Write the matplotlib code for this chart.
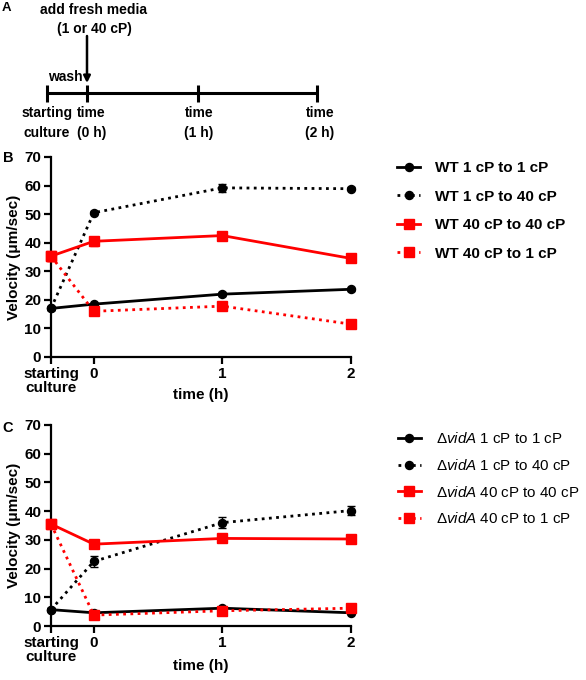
import matplotlib
matplotlib.use("Agg")
import matplotlib.pyplot as plt
from matplotlib.lines import Line2D
import numpy as np

plt.rcParams['font.family'] = ['Liberation Sans', 'DejaVu Sans']
plt.rcParams['font.weight'] = 'bold'
plt.rcParams['mathtext.fontset'] = 'custom'
plt.rcParams['mathtext.it'] = 'Liberation Sans:italic:normal'
plt.rcParams['mathtext.rm'] = 'Liberation Sans:normal'

# ---------------- data ----------------
time_labels = ["starting\nculture", "0", "1", "2"]
time_x = [-0.333, 0, 1, 2]

wt_1_1 = [17.0, 18.5, 22.0, 23.7]
wt_1_1_err = [0.5, 0.5, 0.6, 0.5]
wt_1_40 = [17.0, 50.5, 59.2, 58.9]
wt_1_40_err = [0.5, 0.6, 1.5, 0.6]
wt_40_40 = [35.3, 40.5, 42.5, 34.5]
wt_40_40_err = [1.6, 1.5, 1.0, 1.4]
wt_40_1 = [35.3, 16.0, 17.8, 11.5]
wt_40_1_err = [1.6, 1.0, 0.8, 0.8]

vid_1_1 = [5.7, 4.6, 6.2, 4.6]
vid_1_1_err = [0.5, 0.5, 0.5, 0.5]
vid_1_40 = [5.7, 22.5, 36.0, 40.2]
vid_1_40_err = [0.5, 1.8, 1.8, 1.5]
vid_40_40 = [35.5, 28.5, 30.5, 30.3]
vid_40_40_err = [1.0, 1.0, 1.0, 1.5]
vid_40_1 = [35.5, 3.8, 5.3, 6.2]
vid_40_1_err = [1.0, 0.6, 0.6, 0.6]

wt_labels = ['WT 1 cP to 1 cP', 'WT 1 cP to 40 cP', 'WT 40 cP to 40 cP', 'WT 40 cP to 1 cP']
vid_labels = [r'Δ$\mathit{vidA}$ 1 cP to 1 cP', r'Δ$\mathit{vidA}$ 1 cP to 40 cP',
              r'Δ$\mathit{vidA}$ 40 cP to 40 cP', r'Δ$\mathit{vidA}$ 40 cP to 1 cP']

yticks = [0, 10, 20, 30, 40, 50, 60, 70]

W, H = 586, 680
fig = plt.figure(figsize=(W / 100, H / 100), dpi=100)

# ---------------- panel A (pixel coordinates) ----------------
axA = fig.add_axes([0, 0, 1, 1])
axA.set_xlim(0, W)
axA.set_ylim(H, 0)
axA.axis('off')
axA.plot([47, 317], [93, 93], color='black', lw=2.2, solid_capstyle='butt')
for tx in [47, 87, 198, 317]:
    axA.plot([tx, tx], [85, 102], color='black', lw=2.2, solid_capstyle='butt')
axA.annotate('', xy=(87, 83), xytext=(87, 36),
             arrowprops=dict(arrowstyle='-|>', color='black', lw=1.8,
                             mutation_scale=10, shrinkA=0, shrinkB=0))
fsA = 10
axA.text(6, 8, 'A', fontsize=9.5, ha='center', va='center')
axA.text(94, 10, 'add fresh media', fontsize=fsA, ha='center', va='center')
axA.text(94, 29, '(1 or 40 cP)', fontsize=fsA, ha='center', va='center')
axA.text(65, 77, 'wash', fontsize=fsA, ha='center', va='center')
axA.text(47, 113, 'starting', fontsize=fsA, ha='center', va='center')
axA.text(47, 133, 'culture', fontsize=fsA, ha='center', va='center')
axA.text(91, 113, 'time', fontsize=fsA, ha='center', va='center')
axA.text(92, 133, '(0 h)', fontsize=fsA, ha='center', va='center')
axA.text(199, 113, 'time', fontsize=fsA, ha='center', va='center')
axA.text(199, 133, '(1 h)', fontsize=fsA, ha='center', va='center')
axA.text(320, 113, 'time', fontsize=fsA, ha='center', va='center')
axA.text(320, 133, '(2 h)', fontsize=fsA, ha='center', va='center')
axA.text(8, 158, 'B', fontsize=10.5, ha='center', va='center')
axA.text(8, 428, 'C', fontsize=10.5, ha='center', va='center')

FS = 11


def make_panel(rect, series, labels, legend_anchor, spacing, leg_weight, leg_size, xlabelpad):
    ax = fig.add_axes(rect)
    styles = [
        dict(color='black', ls='-', marker='o', ms=5.8),
        dict(color='black', ls=(0, (1, 1.6)), marker='o', ms=5.8),
        dict(color='#ff0000', ls='-', marker='s', ms=6.8),
        dict(color='#ff0000', ls=(0, (1, 1.6)), marker='s', ms=6.8),
    ]
    handles = []
    for (vals, errs), st, lab in zip(series, styles, labels):
        ax.errorbar(time_x, vals, yerr=errs, color=st['color'], ls=st['ls'],
                    marker=st['marker'], ms=st['ms'], lw=2.0,
                    elinewidth=1.0, capsize=3, capthick=1.0,
                    clip_on=False, zorder=3)
        handles.append(Line2D([], [], color=st['color'], ls=st['ls'], lw=2.0,
                              marker=st['marker'], ms=st['ms'], label=lab))
    ax.set_xlim(-0.333, 2)
    ax.set_ylim(0, 70)
    ax.set_yticks(yticks)
    ax.set_xticks(time_x)
    ax.set_xticklabels(time_labels, linespacing=1.05)
    for s in ['top', 'right']:
        ax.spines[s].set_visible(False)
    for s in ['left', 'bottom']:
        ax.spines[s].set_linewidth(1.6)
    ax.tick_params(axis='both', width=1.6, length=5, labelsize=FS, pad=2)
    for t in ax.get_xticklabels() + ax.get_yticklabels():
        t.set_fontweight('bold')
    ax.set_xlabel('time (h)', fontsize=FS, fontweight='bold', labelpad=xlabelpad)
    ax.set_ylabel('Velocity (μm/sec)', fontsize=FS, fontweight='bold', labelpad=2)
    fig.legend(handles=handles, loc='upper left', bbox_to_anchor=legend_anchor,
               frameon=False, handlelength=1.5, handletextpad=1.0,
               labelspacing=spacing, borderaxespad=0,
               prop=dict(size=leg_size, weight=leg_weight,
                         family=['Liberation Sans', 'DejaVu Sans']))
    return ax


make_panel([51 / W, (H - 357) / H, 300 / W, 200 / H],
           [(wt_1_1, wt_1_1_err), (wt_1_40, wt_1_40_err),
            (wt_40_40, wt_40_40_err), (wt_40_1, wt_40_1_err)],
           wt_labels, (391 / W, 1 - 155 / H), 0.95, 'bold', FS, -5)

make_panel([51 / W, (H - 626) / H, 300 / W, 201 / H],
           [(vid_1_1, vid_1_1_err), (vid_1_40, vid_1_40_err),
            (vid_40_40, vid_40_40_err), (vid_40_1, vid_40_1_err)],
           vid_labels, (392 / W, 1 - 425 / H), 0.78, 'normal', 10.9, -4)

fig.savefig('out.png', dpi=100)
